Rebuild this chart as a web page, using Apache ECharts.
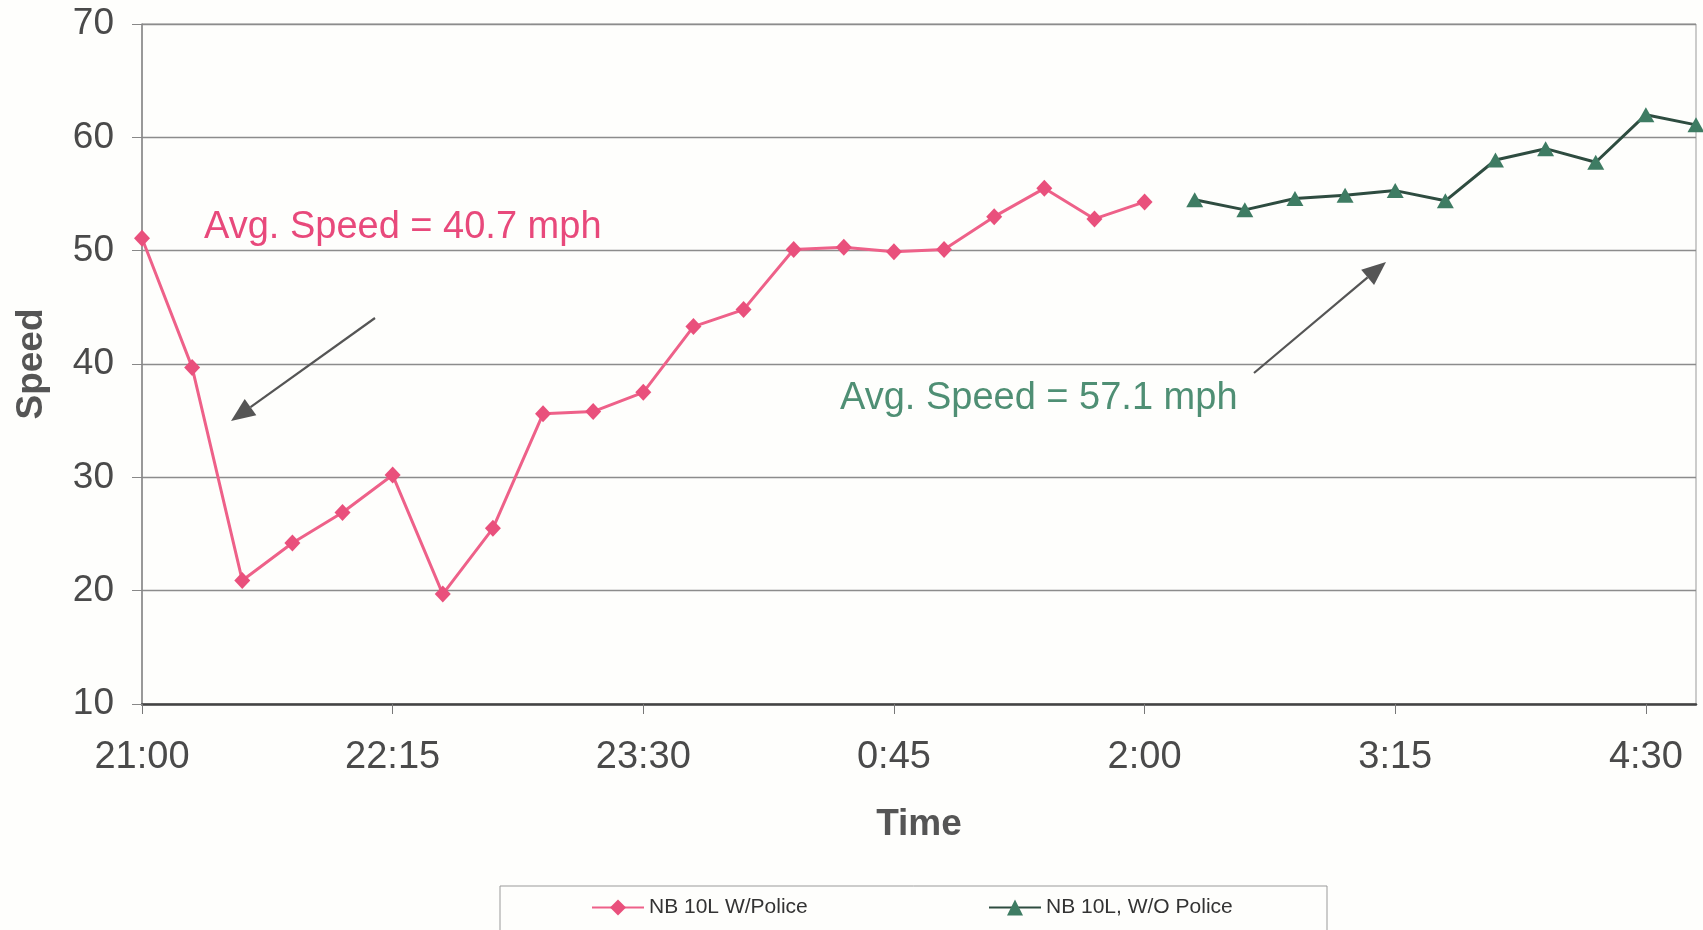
<!DOCTYPE html>
<html>
<head>
<meta charset="utf-8">
<script src="https://cdn.jsdelivr.net/npm/echarts@6/dist/echarts.min.js"></script>
<style>
html,body{margin:0;padding:0;background:#fefefc;}
#chart{width:1703px;height:930px;}
</style>
</head>
<body>
<div id="chart"></div>
<script>
// Categories: 15-minute steps from 21:00 to 4:45
const timeLabels = [
  "21:00","21:15","21:30","21:45","22:00","22:15","22:30","22:45",
  "23:00","23:15","23:30","23:45","0:00","0:15","0:30","0:45",
  "1:00","1:15","1:30","1:45","2:00","2:15","2:30","2:45",
  "3:00","3:15","3:30","3:45","4:00","4:15","4:30","4:45"
];
// NB 10L W/Police (21:00 – 2:00)
const withPolice = [51.1, 39.7, 20.9, 24.2, 26.9, 30.2, 19.7, 25.5, 35.6, 35.8, 37.5,
                    43.3, 44.8, 50.1, 50.3, 49.9, 50.1, 53.0, 55.5, 52.8, 54.3];
// NB 10L, W/O Police (2:15 – 4:45)
const withoutPolice = [54.5, 53.6, 54.6, 54.9, 55.3, 54.4, 58.0, 59.0, 57.8, 62.0, 61.1];
const yTicks = {min: 10, max: 70, interval: 10};
const seriesNames = ["NB 10L W/Police", "NB 10L, W/O Police"];
const notes = ["Avg. Speed = 40.7 mph", "Avg. Speed = 57.1 mph"];

const offset = withPolice.length;
const woData = timeLabels.map((t, i) => (i >= offset && i - offset < withoutPolice.length) ? withoutPolice[i - offset] : null);
const wData = timeLabels.map((t, i) => i < withPolice.length ? withPolice[i] : null);

const FONT = '"Liberation Sans", Arial, Helvetica, sans-serif';
const chart = echarts.init(document.getElementById('chart'), null, {renderer: 'canvas'});

function arrow(x1, y1, x2, y2) {
  const dx = x2 - x1, dy = y2 - y1;
  const len = Math.sqrt(dx * dx + dy * dy);
  const ux = dx / len, uy = dy / len;
  const hl = 24, hw = 10;
  const bx = x2 - ux * hl, by = y2 - uy * hl;
  return [
    {type: 'line', shape: {x1: x1, y1: y1, x2: bx, y2: by}, style: {stroke: '#555', lineWidth: 2.2}, z: 10},
    {type: 'polygon', shape: {points: [[x2, y2], [bx - uy * hw, by + ux * hw], [bx + uy * hw, by - ux * hw]]},
     style: {fill: '#555'}, z: 10}
  ];
}

chart.setOption({
  backgroundColor: '#fefefc',
  animation: false,
  grid: {left: 142, right: 7, top: 24, bottom: 226, show: true, borderColor: '#9a9a9a', borderWidth: 1, backgroundColor: 'transparent'},
  xAxis: {
    type: 'category',
    data: timeLabels,
    boundaryGap: false,
    name: 'Time',
    nameLocation: 'middle',
    nameGap: 102,
    nameTextStyle: {fontFamily: FONT, fontSize: 37, fontWeight: 'bold', color: '#555'},
    axisLine: {show: true, lineStyle: {color: '#444', width: 2.5}},
    axisTick: {show: true, interval: 4, length: 10, lineStyle: {color: '#777', width: 1}},
    axisLabel: {interval: 4, margin: 35, fontFamily: FONT, fontSize: 38, color: '#4a4a4a'},
    splitLine: {show: false}
  },
  yAxis: {
    type: 'value',
    min: yTicks.min, max: yTicks.max, interval: yTicks.interval,
    name: 'Speed',
    nameLocation: 'middle',
    nameRotate: 90,
    nameGap: 92,
    nameTextStyle: {fontFamily: FONT, fontSize: 37, fontWeight: 'bold', color: '#555'},
    axisLine: {show: true, lineStyle: {color: '#888', width: 1.5}},
    axisTick: {show: true, length: 10, lineStyle: {color: '#888', width: 1}},
    axisLabel: {margin: 28, fontFamily: FONT, fontSize: 37, color: '#4a4a4a'},
    splitLine: {show: true, lineStyle: {color: '#8c8c8c', width: 1.3}}
  },
  legend: [
    {data: [seriesNames[0]], left: 591, top: 897, padding: 0, itemWidth: 52, itemHeight: 20, itemGap: 0,
     textStyle: {fontFamily: FONT, fontSize: 21, color: '#333'}},
    {data: [seriesNames[1]], left: 988, top: 897, padding: 0, itemWidth: 52, itemHeight: 20, itemGap: 0,
     textStyle: {fontFamily: FONT, fontSize: 21, color: '#333'}}
  ],
  graphic: [
    {type: 'rect', shape: {x: 500, y: 886, width: 827, height: 60}, style: {fill: 'none', stroke: '#9a9a9a', lineWidth: 1}, z: 1},
    {type: 'text', x: 204, y: 228, style: {text: notes[0], font: '38px ' + FONT, fill: '#e8497b', textVerticalAlign: 'middle'}, z: 10},
    {type: 'text', x: 840, y: 399, style: {text: notes[1], font: '38px ' + FONT, fill: '#4f8f74', textVerticalAlign: 'middle'}, z: 10},
    ...arrow(375, 318, 231, 421),
    ...arrow(1254, 373, 1386, 262)
  ],
  series: [
    {
      name: seriesNames[0], type: 'line', data: wData, connectNulls: false,
      symbol: 'diamond', symbolSize: [16, 17], showSymbol: true,
      lineStyle: {color: '#ee6189', width: 3},
      itemStyle: {color: '#e9507c'},
      z: 5
    },
    {
      name: seriesNames[1], type: 'line', data: woData, connectNulls: false,
      symbol: 'triangle', symbolSize: [17, 15], showSymbol: true,
      lineStyle: {color: '#2e4c40', width: 3},
      itemStyle: {color: '#3e7c63'},
      z: 5
    }
  ]
});
</script>
</body>
</html>
